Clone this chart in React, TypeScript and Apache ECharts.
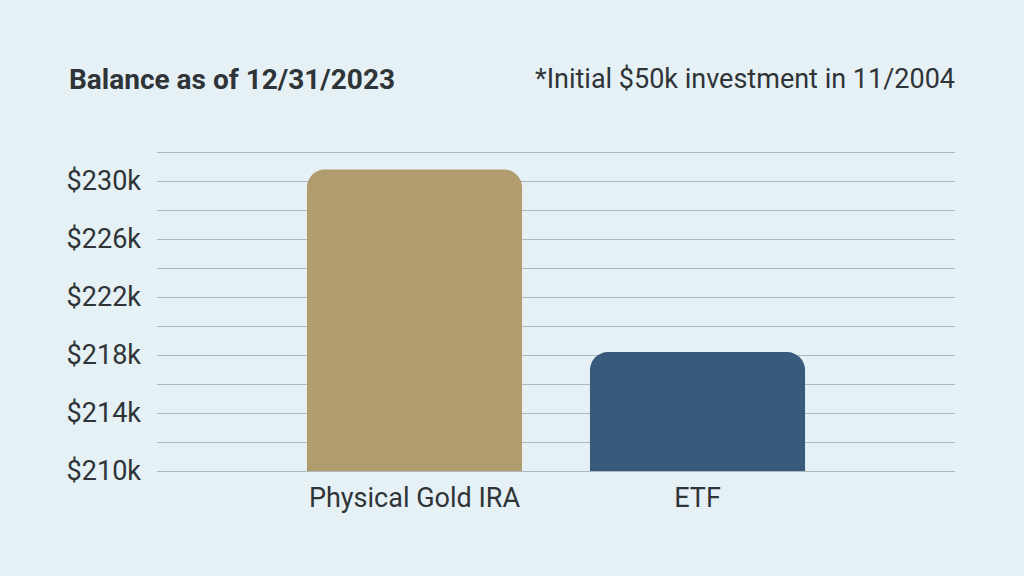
import React, { useEffect, useRef } from "react";
import * as echarts from "echarts";

const categories = ["Physical Gold IRA", "ETF"];
const balances = [230.8, 218.2]; // in $k
const barColors = ["#B09C6E", "#385B7B"];
const yMin = 210;
const yMax = 232;
const yInterval = 2;

const TEXT = "#2F3438";
const FONT = "Roboto";

export default function App() {
  const ref = useRef<HTMLDivElement>(null);
  useEffect(() => {
    if (!ref.current) return;
    const chart = echarts.init(ref.current, undefined, { renderer: "svg" });
    chart.setOption({
      animation: false,
      backgroundColor: "#E6F1F5",
      textStyle: { fontFamily: FONT },
      graphic: [
        {
          type: "text",
          left: 69,
          top: 65,
          style: {
            text: "Balance as of 12/31/2023",
            font: `bold 28px ${FONT}`,
            fill: TEXT,
          },
        },
        {
          type: "text",
          right: 69,
          top: 65,
          style: {
            text: "*Initial $50k investment in 11/2004",
            font: `27px ${FONT}`,
            fill: TEXT,
          },
        },
      ],
      grid: [
        { left: 157, right: 69, top: 152, bottom: 105 },
        { left: 273, right: 185, top: 152, bottom: 105 },
      ],
      xAxis: [
        { type: "category", gridIndex: 0, data: categories, show: false },
        {
          type: "category",
          gridIndex: 1,
          data: categories,
          axisLine: { show: false },
          axisTick: { show: false },
          axisLabel: { color: TEXT, fontSize: 27, fontFamily: FONT, margin: 13 },
        },
      ],
      yAxis: [
        {
          type: "value",
          gridIndex: 0,
          min: yMin,
          max: yMax,
          interval: yInterval,
          axisLine: { show: false },
          axisTick: { show: false },
          splitLine: { lineStyle: { color: "#AEB9BF", width: 1 } },
          axisLabel: {
            color: TEXT,
            fontSize: 27,
            fontFamily: FONT,
            margin: 16,
            formatter: (v: number) =>
              (v - yMin) % 4 === 0 && v <= 230 ? `$${v}k` : "",
          },
        },
        {
          type: "value",
          gridIndex: 1,
          min: yMin,
          max: yMax,
          interval: yInterval,
          show: false,
        },
      ],
      series: [
        {
          type: "bar",
          xAxisIndex: 1,
          yAxisIndex: 1,
          barWidth: "76%",
          data: balances.map((v, i) => ({
            value: v,
            itemStyle: { color: barColors[i], borderRadius: [18, 18, 0, 0] },
          })),
        },
      ],
    });
    return () => chart.dispose();
  }, []);
  return (
    <div
      ref={ref}
      style={{ position: "fixed", left: 0, top: 0, width: 1024, height: 576 }}
    />
  );
}
